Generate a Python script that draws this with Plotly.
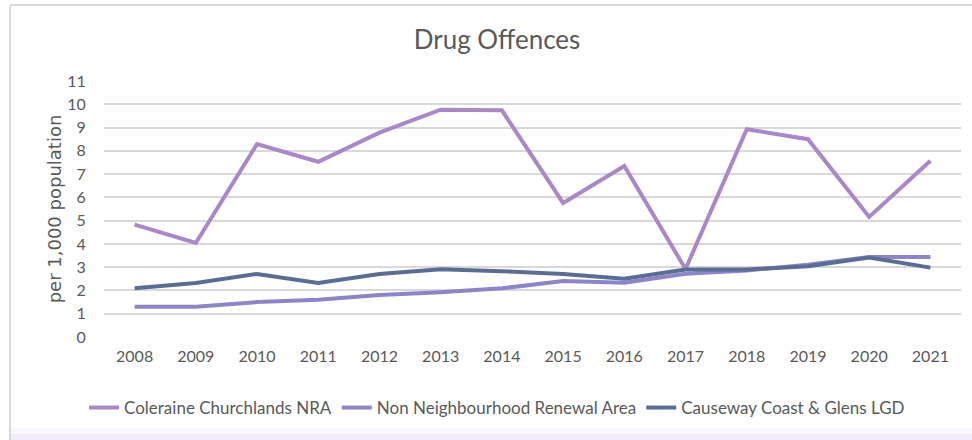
import plotly.graph_objects as go

years = ["2008", "2009", "2010", "2011", "2012", "2013", "2014",
         "2015", "2016", "2017", "2018", "2019", "2020", "2021"]
coleraine = [4.83, 4.04, 8.29, 7.53, 8.78, 9.77, 9.74, 5.76, 7.35, 2.92, 8.93, 8.50, 5.16, 7.57]
non_nra = [1.30, 1.30, 1.50, 1.60, 1.80, 1.92, 2.09, 2.41, 2.33, 2.72, 2.86, 3.11, 3.44, 3.44]
causeway = [2.09, 2.32, 2.71, 2.32, 2.71, 2.91, 2.83, 2.71, 2.50, 2.90, 2.90, 3.04, 3.41, 2.98]
y_ticks = list(range(0, 12))

series = [
    ("Coleraine Churchlands NRA", coleraine, "#A987C9"),
    ("Non Neighbourhood Renewal Area", non_nra, "#8C85C9"),
    ("Causeway Coast & Glens LGD", causeway, "#5A6D95"),
]

fig = go.Figure()
for name, vals, col in series:
    fig.add_trace(go.Scatter(x=years, y=vals, name=name, mode="lines",
                             line=dict(color=col, width=4)))

W, H = 972, 440
L, R, T, B = 104, 11, 81, 103
pw, ph = W - L - R, H - T - B

def px(x):
    return (x - L) / pw

def py(y):
    return (H - B - y) / ph

fig.update_layout(
    width=W, height=H,
    margin=dict(l=L, r=R, t=T, b=B, autoexpand=False),
    paper_bgcolor="white", plot_bgcolor="white",
    font=dict(family="Lato, Open Sans, sans-serif", color="#595959", size=16),
    title=dict(text="Drug Offences", x=px(497), xref="paper", xanchor="center",
               y=1 - 40 / H, yanchor="middle",
               font=dict(size=26, color="#595959", family="Lato, Open Sans, sans-serif")),
    xaxis=dict(type="category", range=[-0.5, 13.5], showgrid=False, zeroline=False,
               showline=False, automargin=False,
               ticks="outside", ticklen=5, tickcolor="rgba(0,0,0,0)",
               tickfont=dict(size=16, color="#595959"), fixedrange=True),
    yaxis=dict(range=[0, 11], tickvals=y_ticks, showgrid=True, gridcolor="#D9D9D9",
               gridwidth=2, zeroline=False, showline=False, automargin=False,
               ticks="outside", ticklen=14, tickcolor="rgba(0,0,0,0)",
               tickfont=dict(size=16, color="#595959"),
               title=dict(text="per 1,000 population", standoff=0,
                          font=dict(size=18, color="#595959", family="DejaVu Sans"))),
    legend=dict(orientation="h", x=px(497), xanchor="center", y=py(408), yanchor="middle",
                font=dict(size=17, color="#595959"), bgcolor="rgba(0,0,0,0)",
                itemwidth=30, tracegroupgap=0),
    showlegend=True,
)

shapes = [
    dict(type="rect", xref="paper", yref="paper", x0=px(10), x1=px(972), y0=py(440), y1=py(434),
         fillcolor="#F2EEF9", line=dict(width=0), layer="below"),
    dict(type="rect", xref="paper", yref="paper", x0=px(10), x1=px(972), y0=py(434), y1=py(428),
         fillcolor="#FAF8FD", line=dict(width=0), layer="below"),
    dict(type="line", xref="paper", yref="paper", x0=px(10), x1=px(972), y0=py(5), y1=py(5),
         line=dict(color="#D9D9D9", width=2)),
    dict(type="line", xref="paper", yref="paper", x0=px(10), x1=px(10), y0=py(5), y1=py(440),
         line=dict(color="#D9D9D9", width=2)),
]
fig.update_layout(shapes=shapes)

fig.write_html("out.html", config={"displayModeBar": False},
               post_script="document.body.style.margin='0';document.body.style.overflow='hidden';")
